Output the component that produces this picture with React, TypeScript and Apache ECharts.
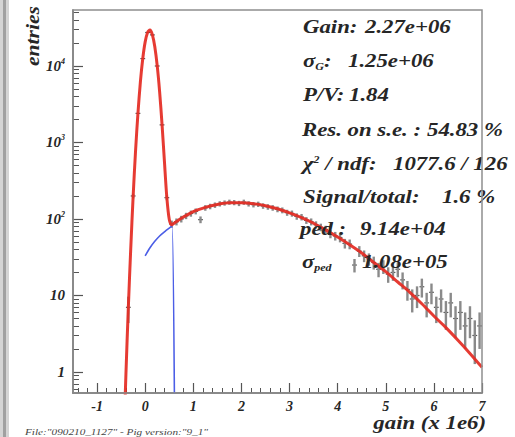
import { useEffect, useRef } from "react";
import * as echarts from "echarts";

// ---- data ----
const fitX = [-0.45, -0.4, -0.35, -0.3, -0.25, -0.2, -0.15, -0.1, -0.05, 0, 0.05, 0.1, 0.15, 0.2, 0.25, 0.3, 0.35, 0.4, 0.45, 0.5, 0.55, 0.6, 0.75, 1, 1.25, 1.5, 1.75, 2, 2.25, 2.5, 2.75, 3, 3.25, 3.5, 3.75, 4, 4.25, 4.5, 4.75, 5, 5.25, 5.5, 5.75, 6, 6.25, 6.5, 6.75, 7];
const fitY = [0.1, 0.94, 7, 41, 199, 775, 2425, 6140, 12520, 20660, 27440, 29440, 25500, 17840, 10090, 4630, 1740, 566, 191, 99, 84, 88, 102, 125, 142, 155, 163, 163, 158, 149, 136, 120, 104, 88, 72, 58, 46, 36, 27, 20.5, 15, 11, 7.8, 5.4, 3.8, 2.6, 1.75, 1.15];

const compX = [0, 0.1, 0.2, 0.3, 0.4, 0.5, 0.56, 0.61];
const compY = [33, 42, 51, 60, 68, 76, 81, 0.3];

const histX = [-0.35, -0.25, -0.15, -0.05, 0.05, 0.15, 0.25, 0.35, 0.45, 0.55,
  0.65, 0.75, 0.85, 0.95, 1.05, 1.15, 1.25, 1.35, 1.45, 1.55, 1.65, 1.75, 1.85, 1.95,
  2.05, 2.15, 2.25, 2.35, 2.45, 2.55, 2.65, 2.75, 2.85, 2.95,
  3.05, 3.15, 3.25, 3.35, 3.45, 3.55, 3.65, 3.75, 3.85, 3.95,
  4.05, 4.15, 4.25, 4.35, 4.45, 4.55, 4.65, 4.75, 4.85, 4.95,
  5.05, 5.15, 5.25, 5.35, 5.45, 5.55, 5.65, 5.75, 5.85, 5.95,
  6.05, 6.15, 6.25, 6.35, 6.45, 6.55, 6.65, 6.75, 6.85, 6.95];
const histY = [7, 200, 2400, 12500, 27400, 25500, 10000, 1700, 190, 86,
  92, 100, 110, 118, 126, 98, 140, 146, 152, 158, 162, 166, 164, 160,
  166, 158, 154, 156, 148, 144, 140, 134, 130, 121,
  118, 108, 106, 96, 92, 84, 78, 73, 64, 60,
  57, 48, 47, 25, 38, 33, 30, 27, 22, 24,
  19, 20, 22, 16, 12, 9, 10, 13, 8, 11,
  7, 9, 6, 8, 5, 6, 4, 5, 3, 4];

const xTickValues = [-1, 0, 1, 2, 3, 4, 5, 6, 7];
const statLabels = ["Gain:", "{n|σ}{sub|G}{n|:}", "P/V:", "Res. on s.e. :", "{n|χ}{sup|2}{n| / ndf:}", "Signal/total:", "ped :", "{n|σ}{sub|ped}"];
const statValues = ["2.27e+06", "1.25e+06", "1.84", "54.83 %", "1077.6 / 126", "1.6 %", "9.14e+04", "1.08e+05"];
const xTitle = "gain (x 1e6)";
const yTitle = "entries";
const fileNote = 'File:"090210_1127" - Pig version:"9_1"';

// ---- layout / style ----
const X_MIN = -1.5, X_MAX = 7;
const Y_MIN = 0.531, Y_MAX = 53950;
const HALF_BIN = 0.05;
const G = { left: 73, top: 10, width: 409, height: 383 };
const SERIF = '"Liberation Serif", "DejaVu Serif", serif';
const INK = "#262626";
const STRETCH = 1.2;
const statPos = [[303, 365, 27], [303, 348, 61], [303, 349, 95], [302, 427, 130], [303, 393, 164], [303, 442, 197], [300, 360, 229], [302, 362, 262]];

export default function App() {
  const ref = useRef<HTMLDivElement>(null);
  useEffect(() => {
    if (!ref.current) return;
    const chart = echarts.init(ref.current, undefined, { renderer: "svg" });

    const xMinor: number[] = [];
    for (let i = -7; i <= 35; i++) if (i % 5 !== 0) xMinor.push(+(i * 0.2).toFixed(2));
    const yMinor: number[] = [];
    for (let n = -1; n <= 4; n++) for (let k = 2; k <= 9; k++) {
      const v = k * Math.pow(10, n);
      if (v > Y_MIN && v < Y_MAX) yMinor.push(Math.log10(v));
    }

    const textBase = { fontFamily: SERIF, fontWeight: "bold", fontStyle: "italic", fill: INK } as any;
    const richStat = {
      n: { fontFamily: SERIF, fontWeight: "bold", fontStyle: "italic", fontSize: 19, color: INK },
      sub: { fontFamily: SERIF, fontWeight: "bold", fontStyle: "italic", fontSize: 10, color: INK, verticalAlign: "bottom", padding: [10, 0, 0, 0] },
      sup: { fontFamily: SERIF, fontWeight: "bold", fontStyle: "italic", fontSize: 10, color: INK, verticalAlign: "top", padding: [0, 0, 10, 0] },
    };

    const graphics: any[] = [
      { type: "rect", shape: { x: 0, y: 0, width: 9, height: 437 }, style: { fill: "#d4d4d4" }, z: 0 },
      { type: "rect", shape: { x: 3, y: 0, width: 3, height: 437 }, style: { fill: "#a0a0a0" }, z: 0 },
      { type: "rect", shape: { x: G.left, y: G.top, width: G.width, height: G.height }, style: { fill: "none", stroke: "#8f8f8f", lineWidth: 1.5 }, z: 100, silent: true },
      { type: "text", x: 33, y: 36, rotation: Math.PI / 2, scaleX: STRETCH, style: { ...textBase, text: yTitle, fontSize: 18, align: "center", verticalAlign: "middle" }, z: 50 },
      { type: "text", x: 486, y: 423, scaleX: STRETCH, style: { ...textBase, text: xTitle, fontSize: 19, align: "right", verticalAlign: "middle" }, z: 50 },
      { type: "text", x: 25, y: 432, scaleX: 1.25, style: { fontFamily: SERIF, fontStyle: "italic", fontSize: 9, fill: "#444", text: fileNote, align: "left", verticalAlign: "middle" }, z: 50 },
    ];
    statLabels.forEach((lab, i) => {
      const [lx, vx, y] = statPos[i];
      graphics.push({ type: "text", x: lx, y, scaleX: STRETCH, z: 60, style: { ...textBase, fontSize: 19, text: lab, rich: richStat, align: "left", verticalAlign: "middle" } });
      graphics.push({ type: "text", x: vx, y, scaleX: STRETCH, z: 60, style: { ...textBase, fontSize: 19, text: statValues[i], align: "left", verticalAlign: "middle" } });
    });

    const labelFont = { fontFamily: SERIF, fontWeight: "bold", fontStyle: "italic", color: INK } as any;

    chart.setOption({
      animation: false,
      backgroundColor: "#ffffff",
      grid: { ...G, containLabel: false, outerBoundsMode: "none" },
      xAxis: [
        {
          type: "value", min: X_MIN, max: X_MAX, position: "bottom",
          axisLine: { show: true, onZero: false, lineStyle: { color: "#555", width: 1.5 } },
          axisTick: { show: true, inside: true, length: 10, customValues: xTickValues, lineStyle: { color: "#555", width: 1.2 } },
          axisLabel: { ...labelFont, fontSize: 14, margin: 6, customValues: xTickValues, formatter: (v: number) => String(v) },
          splitLine: { show: false },
        },
        {
          type: "value", min: X_MIN, max: X_MAX, position: "bottom",
          axisLine: { show: false, onZero: false },
          axisTick: { show: true, inside: true, length: 5, customValues: xMinor, lineStyle: { color: "#555", width: 1 } },
          axisLabel: { show: false },
          splitLine: { show: false },
        },
      ],
      yAxis: [
        {
          type: "log", logBase: 10, min: Y_MIN, max: Y_MAX, position: "left",
          axisLine: { show: true, onZero: false, lineStyle: { color: "#555", width: 1.5 } },
          axisTick: { show: true, inside: true, length: 10, lineStyle: { color: "#555", width: 1.2 } },
          axisLabel: {
            ...labelFont, fontSize: 15, margin: 8, showMinLabel: false, showMaxLabel: false,
            formatter: (v: number) => {
              const e = Math.round(Math.log10(v));
              if (e === 0) return "1";
              if (e === 1) return "10";
              return "{b|10}{s|" + e + "}";
            },
            rich: {
              b: { ...labelFont, fontSize: 15 },
              s: { ...labelFont, fontSize: 8, verticalAlign: "top", padding: [0, 0, 9, 0] },
            },
          },
          splitLine: { show: false },
          minorTick: { show: false },
        },
        {
          type: "value", min: Math.log10(Y_MIN), max: Math.log10(Y_MAX), position: "left",
          axisLine: { show: false, onZero: false },
          axisTick: { show: true, inside: true, length: 6, customValues: yMinor, lineStyle: { color: "#555", width: 1 } },
          axisLabel: { show: false },
          splitLine: { show: false },
        },
      ],
      series: [
        {
          type: "custom", name: "hist", xAxisIndex: 0, yAxisIndex: 0, clip: true, z: 2,
          data: histX.map((x, i) => [x, histY[i]]),
          renderItem: (_p: any, api: any) => {
            const x = api.value(0), y = api.value(1);
            const e = Math.sqrt(y);
            const pL = api.coord([x - HALF_BIN, y]);
            const pR = api.coord([x + HALF_BIN, y]);
            const pT = api.coord([x, y + e]);
            const pB = api.coord([x, Math.max(y - e, 0.3)]);
            return {
              type: "group",
              children: [
                { type: "line", shape: { x1: pL[0], y1: pL[1], x2: pR[0], y2: pR[1] }, style: { stroke: "#555", lineWidth: 1.2 } },
                { type: "line", shape: { x1: pT[0], y1: pT[1], x2: pB[0], y2: pB[1] }, style: { stroke: "#8a8a8a", lineWidth: 2.4 } },
              ],
            };
          },
        },
        {
          type: "line", name: "component", xAxisIndex: 0, yAxisIndex: 0, z: 3,
          data: compX.map((x, i) => [x, compY[i]]),
          showSymbol: false, smooth: 0.2, clip: true,
          lineStyle: { color: "#4b5ee6", width: 1.6 },
        },
        {
          type: "line", name: "fit", xAxisIndex: 0, yAxisIndex: 0, z: 4,
          data: fitX.map((x, i) => [x, fitY[i]]),
          showSymbol: false, smooth: 0.3, clip: true,
          lineStyle: { color: "#e42a22", width: 3, opacity: 0.92 },
        },
      ],
      graphic: graphics,
    });
    return () => chart.dispose();
  }, []);
  return <div ref={ref} style={{ position: "fixed", left: 0, top: 0, width: 515, height: 437 }} />;
}
